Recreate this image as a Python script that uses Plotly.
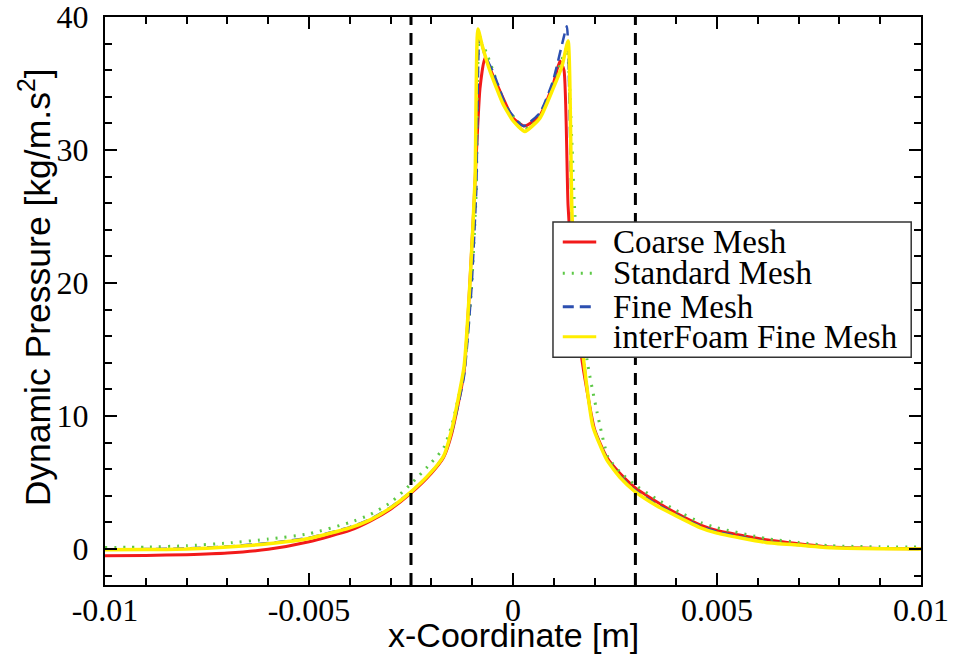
import plotly.graph_objects as go

# ---------------- data ----------------
coarse_x = [-0.01, -0.009, -0.008, -0.007, -0.006, -0.005, -0.004, -0.0035, -0.003, -0.0025,
            -0.002, -0.0017, -0.0015, -0.0012, -0.00098, -0.00081, -0.00069, -0.00049, 0.0,
            0.00029, 0.00066, 0.00098, 0.00115, 0.00125, 0.00135, 0.0015, 0.0017, 0.002,
            0.0023, 0.00262, 0.003, 0.0035, 0.004, 0.0046, 0.005, 0.0062, 0.007, 0.0078,
            0.009, 0.01]
coarse_y = [-0.5, -0.48, -0.42, -0.3, -0.02, 0.55, 1.4, 2.1, 3.0, 4.2,
            5.7, 6.9, 8.7, 13.3, 24.5, 34.6, 36.9, 35.6, 32.4,
            31.8, 32.6, 34.9, 36.7, 36.0, 25.8, 19.5, 14.0, 9.0,
            6.9, 5.7, 4.6, 3.6, 2.7, 1.8, 1.4, 0.7, 0.4, 0.15,
            0.05, 0.02]

standard_x = [-0.01, -0.009, -0.008, -0.007, -0.006, -0.005, -0.004, -0.0035, -0.003, -0.0025,
              -0.002, -0.0017, -0.0015, -0.0012, -0.00102, -0.0009, -0.00082, -0.00065,
              -0.00037, -0.0002, 0.0001, 0.00037, 0.00066, 0.00098, 0.0012, 0.00132,
              0.00144, 0.00152, 0.00181, 0.00206, 0.00233, 0.00262, 0.003, 0.0035, 0.004,
              0.0046, 0.005, 0.0062, 0.007, 0.0078, 0.009, 0.01]
standard_y = [0.12, 0.15, 0.25, 0.45, 0.75, 1.15, 2.0, 2.6, 3.5, 4.9,
              6.5, 7.6, 9.3, 13.5, 19.5, 27.0, 38.3, 37.3,
              34.9, 33.4, 32.2, 31.6, 32.6, 35.0, 36.8, 37.7,
              30.8, 25.0, 14.3, 10.3, 6.9, 5.8, 4.8, 3.8, 2.9,
              2.0, 1.6, 0.8, 0.5, 0.25, 0.17, 0.15]

fine_x = [-0.01, -0.009, -0.008, -0.007, -0.006, -0.005, -0.004, -0.0035, -0.003, -0.0025,
          -0.002, -0.0017, -0.0015, -0.0012, -0.00102, -0.0009, -0.00082, -0.0007, -0.00049,
          -0.00015, 0.00025, 0.00066, 0.00098, 0.00123, 0.00132, 0.00145, 0.0016, 0.00172,
          0.00196, 0.0023, 0.00262, 0.003, 0.0035, 0.004, 0.0046, 0.005, 0.0062, 0.007,
          0.0078, 0.009, 0.01]
fine_y = [-0.02, 0.0, 0.05, 0.2, 0.45, 0.85, 1.65, 2.25, 3.15, 4.3,
          5.8, 7.0, 8.8, 13.0, 19.5, 27.0, 38.6, 37.2, 35.9,
          33.2, 31.8, 32.8, 35.2, 38.3, 39.3, 24.3, 19.2, 14.6,
          9.3, 6.8, 5.5, 4.4, 3.4, 2.6, 1.7, 1.3, 0.55, 0.3,
          0.12, 0.04, 0.0]

interfoam_x = [-0.01, -0.009, -0.008, -0.007, -0.006, -0.005, -0.004, -0.0035, -0.003, -0.0025,
               -0.002, -0.0017, -0.0015, -0.0012, -0.00105, -0.00093, -0.00086, -0.00075,
               -0.00056, -0.00025, 0.0, 0.00029, 0.00066, 0.00098, 0.0012, 0.00135, 0.00145,
               0.0016, 0.00172, 0.00196, 0.0023, 0.00262, 0.003, 0.0035, 0.004, 0.0046, 0.005,
               0.0062, 0.007, 0.0078, 0.009, 0.01]
interfoam_y = [-0.05, -0.04, 0.0, 0.15, 0.4, 0.8, 1.6, 2.2, 3.1, 4.3,
               5.8, 7.0, 9.0, 13.7, 20.3, 27.8, 39.1, 37.8,
               35.9, 33.5, 32.2, 31.4, 32.4, 34.6, 36.3, 38.2, 24.8,
               19.1, 14.5, 9.2, 6.7, 5.4, 4.3, 3.3, 2.5, 1.6, 1.2,
               0.5, 0.3, 0.1, 0.03, 0.0]

series_names = ["Coarse Mesh", "Standard Mesh", "Fine Mesh", "interFoam Fine Mesh"]
vline_x = [-0.0025, 0.003]

x_tickvals = [-0.01, -0.005, 0, 0.005, 0.01]
x_ticktext = ["-0.01", "-0.005", "0", "0.005", "0.01"]
y_tickvals = [0, 10, 20, 30, 40]
y_ticktext = ["0", "10", "20", "30", "40"]
x_title = "x-Coordinate [m]"
y_title = "Dynamic Pressure [kg/m.s<sup>2</sup>]"

# ---------------- styles ----------------
colors = ["#F21A1A", "#5CC846", "#2C4FB0", "#FFEE00"]
dashes = ["solid", "2px,7px", "11px,6px", "solid"]
widths = [3, 3, 2.5, 3.5]
serif = "Liberation Serif"
sans = "Liberation Sans"

fig = go.Figure()
data = [(coarse_x, coarse_y), (standard_x, standard_y), (fine_x, fine_y), (interfoam_x, interfoam_y)]
for (xs, ys), name, c, d, w in zip(data, series_names, colors, dashes, widths):
    fig.add_trace(go.Scatter(x=xs, y=ys, mode="lines", name=name, showlegend=False,
                             line=dict(color=c, dash=d, width=w, shape="spline", smoothing=0.5)))

for vx in vline_x:
    fig.add_shape(type="line", xref="x", yref="paper", x0=vx, x1=vx, y0=0, y1=1,
                  line=dict(color="black", width=3, dash="12px,8px"), layer="above")

# ---------------- manual legend ----------------
lx0, lx1, ly0, ly1 = 0.549, 0.988, 0.401, 0.639
fig.add_shape(type="rect", xref="paper", yref="paper", x0=lx0, x1=lx1, y0=ly0, y1=ly1,
              line=dict(color="#333333", width=1.5), fillcolor="white", layer="above")
row_y = [0.604, 0.549, 0.490, 0.437]
for name, c, d, ry in zip(series_names, colors, dashes, row_y):
    fig.add_shape(type="line", xref="paper", yref="paper", x0=0.561, x1=0.602, y0=ry, y1=ry,
                  line=dict(color=c, dash=d, width=3), layer="above")
    fig.add_annotation(xref="paper", yref="paper", x=0.621, y=ry, text=name, showarrow=False,
                       xanchor="left", yanchor="middle", borderpad=0,
                       font=dict(family=serif, size=33, color="black"))

# axis titles
fig.add_annotation(xref="paper", yref="paper", x=0.5, y=0, yshift=-50, text=x_title,
                   showarrow=False, xanchor="center", yanchor="middle", borderpad=0,
                   font=dict(family=sans, size=34, color="black"))
fig.add_annotation(xref="paper", yref="paper", x=0, y=0.524, xshift=-70, text=y_title,
                   textangle=-90, showarrow=False, xanchor="center", yanchor="middle",
                   borderpad=0, font=dict(family=sans, size=35.5, color="black"))

axis_common = dict(showline=True, linecolor="black", linewidth=2, mirror="allticks",
                   ticks="inside", ticklen=12, tickwidth=1.5, tickcolor="black",
                   showgrid=False, zeroline=False, ticklabeloverflow="allow",
                   tickfont=dict(family=serif, size=32, color="black"))

fig.update_xaxes(range=[-0.01, 0.01], tickmode="array", tickvals=x_tickvals, ticktext=x_ticktext,
                 minor=dict(dtick=0.001, tick0=0, ticks="inside", ticklen=7, tickwidth=1.5,
                            tickcolor="black", showgrid=False),
                 ticklabelstandoff=-4, **axis_common)
fig.update_yaxes(range=[-2.7, 40], tickmode="array", tickvals=y_tickvals, ticktext=y_ticktext,
                 minor=dict(dtick=2, tick0=0, ticks="inside", ticklen=7, tickwidth=1.5,
                            tickcolor="black", showgrid=False),
                 ticklabelstandoff=8, **axis_common)

fig.update_layout(width=954, height=664, paper_bgcolor="white", plot_bgcolor="white",
                  margin=dict(l=105, r=33, t=17, b=79, autoexpand=False))

fig.write_html("out.html", config={"displayModeBar": False},
               post_script="document.body.style.margin='0';document.body.style.padding='0';")
